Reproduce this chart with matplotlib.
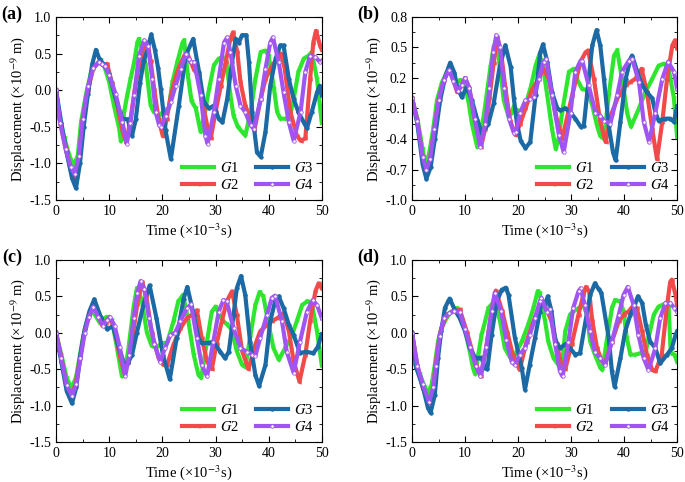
import matplotlib
matplotlib.use('Agg')
import matplotlib.pyplot as plt
import numpy as np
from matplotlib.ticker import MultipleLocator

plt.rcParams['font.family'] = 'serif'
plt.rcParams['font.serif'] = ['Liberation Serif', 'DejaVu Serif']
plt.rcParams['mathtext.fontset'] = 'stix'
plt.rcParams['font.size'] = 10

# (time in 1e-3 s, displacement in 1e-9 m)
a_g1 = [(0, 0), (0.6, -0.39), (1.6, -0.66), (2.5, -0.89), (3.3, -1.03), (4.1, -0.89), (4.7, -0.44), (5.6, -0.07),
        (6.6, 0.25), (7.5, 0.34), (8.4, 0.41), (9.2, 0.3), (10, 0.11), (10.9, -0.21), (11.9, -0.53), (12.2, -0.7),
        (12.8, -0.3), (13.4, -0.07), (14, 0.15), (14.7, 0.38), (15.3, 0.65), (15.6, 0.7), (16.2, 0.55), (16.9, 0.34),
        (17.8, -0.21), (18.4, -0.3), (19.4, -0.35), (20.5, -0.27), (21.2, -0.25), (21.9, 0.11), (22.8, 0.38),
        (23.8, 0.65), (24.1, 0.68), (24.8, 0.2), (25.5, -0.15), (26.3, -0.25), (27.2, -0.57), (28, -0.3),
        (28.8, 0.02), (29.7, 0.34), (30.6, 0.43), (31.3, 0.45), (32, 0.4), (32.8, -0.07), (33.4, -0.35),
        (34.2, -0.5), (35, -0.57), (35.6, -0.62), (36.6, -0.3), (37.5, 0.15), (38.5, 0.52), (39.4, 0.54),
        (40, 0.47), (41, 0.02), (41.6, -0.3), (42.2, -0.39), (43.1, -0.39), (44, -0.36), (44.7, -0.12),
        (45.6, 0.25), (46.6, 0.43), (47.5, 0.47), (48.1, 0.52), (49.1, 0.15), (50, -0.45)]
a_g2 = [(0, 0), (0.8, -0.45), (1.8, -0.8), (2.8, -1.1), (3.5, -1.22), (4.2, -1.0), (5, -0.4), (6, 0.0), (7, 0.3),
        (8, 0.38), (9, 0.33), (9.6, 0.36), (10.5, 0.1), (11.5, -0.2), (12.5, -0.55), (13.2, -0.72), (14, -0.4),
        (14.8, 0.0), (15.5, 0.3), (16.5, 0.6), (17.2, 0.65), (17.8, 0.4), (18.5, 0.0), (19.3, -0.4), (20.1, -0.63),
        (20.8, -0.4), (21.6, -0.07), (22.8, 0.25), (24.1, 0.47), (24.7, 0.5), (26, 0.27), (26.9, 0.2),
        (27.8, -0.25), (28.8, -0.62), (29.1, -0.66), (30, -0.3), (31, 0.06), (31.9, 0.38), (32.8, 0.7),
        (33.3, 0.79), (34.1, 0.52), (34.7, 0.11), (35.6, -0.21), (36.6, -0.39), (37.3, -0.55), (38.5, -0.12),
        (39.4, 0.15), (40.3, 0.29), (41.3, 0.4), (42.3, 0.5), (43, 0.3), (44.1, -0.3), (45.3, -0.62), (46, -0.69),
        (46.9, -0.66), (47.8, 0.15), (48.4, 0.65), (48.9, 0.81), (49.7, 0.6), (50, 0.55)]
a_g3 = [(0, 0), (1, -0.45), (2, -0.85), (3, -1.2), (3.75, -1.34), (4.5, -1.0), (5.2, -0.5), (6, -0.05), (6.8, 0.35),
        (7.5, 0.55), (8.2, 0.42), (9, 0.35), (10, 0.22), (11, -0.05), (12, -0.3), (12.5, -0.39), (13.5, -0.4),
        (14.3, -0.62), (15, -0.4), (15.8, 0.1), (16.5, 0.4), (17.2, 0.55), (17.9, 0.76), (18.6, 0.55), (19.2, 0.3),
        (19.7, 0.02), (20.6, -0.55), (21.6, -0.94), (23.1, -0.21), (24.4, 0.47), (25.8, 0.7), (26.9, 0.25),
        (27.8, -0.16), (28.8, -0.25), (29.7, -0.21), (30.6, -0.39), (31.3, -0.44), (32.2, -0.12), (33.1, 0.38),
        (33.8, 0.7), (34.4, 0.65), (35, 0.75), (35.8, 0.75), (36.3, 0.38), (36.9, -0.3), (37.8, -0.85),
        (38.5, -0.91), (39.4, -0.57), (40.3, 0.06), (41.3, 0.43), (42.2, 0.61), (42.8, 0.61), (43.8, 0.15),
        (44.7, -0.12), (45.6, -0.3), (46.6, -0.44), (47.2, -0.52), (48.1, -0.3), (49.1, -0.03), (49.6, 0.06),
        (50, -0.07)]
a_g4 = [(0, 0), (0.8, -0.45), (1.8, -0.8), (2.8, -1.05), (3.5, -1.15), (4.3, -0.9), (5, -0.4), (6, 0.05), (7, 0.3),
        (8, 0.38), (8.6, 0.36), (9.3, 0.33), (10, 0.2), (11.2, -0.05), (12.5, -0.44), (13.3, -0.73), (14, -0.45),
        (14.7, -0.07), (15.6, 0.47), (16.6, 0.68), (17.3, 0.6), (18.1, 0.15), (18.75, -0.3), (19.4, -0.48),
        (19.8, -0.5), (20.6, -0.35), (21.6, -0.16), (22.5, 0.06), (23.5, 0.29), (24.4, 0.5), (25, 0.43),
        (25.3, 0.38), (26, 0.38), (27.2, -0.07), (28.1, -0.62), (28.5, -0.73), (29.7, -0.3), (30.6, 0.15),
        (31.6, 0.65), (32.2, 0.72), (32.8, 0.52), (33.8, 0.06), (34.7, -0.21), (35.6, -0.3), (36.6, -0.48),
        (37.2, -0.53), (38.5, -0.12), (39.4, 0.29), (40.3, 0.65), (40.8, 0.72), (41.9, 0.38), (42.8, -0.03),
        (43.8, -0.44), (44.7, -0.69), (46, -0.3), (46.9, 0.25), (47.8, 0.47), (48.8, 0.45), (49.7, 0.38), (50, 0.4)]

b_g1 = [(0, 0), (1, -0.2), (2, -0.5), (2.5, -0.64), (3.2, -0.55), (4, -0.3), (4.7, -0.02), (5.6, 0.15), (6.6, 0.26),
        (7, 0.28), (7.6, 0.22), (8.2, 0.13), (9.1, 0.18), (10.1, 0.1), (10.7, -0.05), (11.3, -0.25), (12.3, -0.48),
        (13.5, -0.18), (14.2, 0.08), (14.8, 0.31), (15.4, 0.51), (16, 0.51), (16.6, 0.3), (17.3, -0.02),
        (18.2, -0.18), (18.8, -0.14), (19.2, -0.08), (19.8, -0.12), (20.6, -0.14), (21.5, -0.05), (22.5, 0.13),
        (23.3, 0.32), (24, 0.43), (24.6, 0.35), (25.5, 0.03), (26.4, -0.3), (27.1, -0.5), (27.7, -0.38),
        (28.3, -0.14), (29.6, 0.26), (30.5, 0.29), (31.1, 0.19), (32.1, 0.09), (33, 0.08), (34, -0.07),
        (34.9, -0.27), (35.5, -0.37), (36.2, -0.4), (37.1, 0.03), (38.1, 0.42), (38.7, 0.47), (39.6, 0.19),
        (40.6, -0.15), (41.3, -0.28), (42.8, -0.1), (44, 0.06), (45.3, 0.19), (46.5, 0.32), (47.5, 0.34),
        (48.4, 0.29), (49.4, 0.0), (50, -0.38)]
b_g2 = [(0, 0), (1, -0.22), (2, -0.58), (2.7, -0.72), (3.4, -0.6), (4.2, -0.3), (5, -0.02), (6, 0.18), (7, 0.28),
        (7.8, 0.18), (8.5, 0.06), (9.3, 0.12), (10, 0.2), (10.8, 0.1), (11.8, -0.2), (13, -0.48), (13.8, -0.3),
        (14.6, 0.0), (15.4, 0.35), (16.1, 0.6), (16.8, 0.45), (17.6, 0.1), (18.5, -0.22), (19.5, -0.36),
        (20.4, -0.25), (21.4, -0.1), (22.6, 0.08), (23.9, 0.19), (24.8, 0.29), (25.8, 0.19), (27, -0.14),
        (28.3, -0.4), (29.2, -0.2), (30.2, 0.03), (31.8, 0.36), (32.7, 0.45), (33.2, 0.47), (34.3, 0.19),
        (35.5, -0.23), (36.5, -0.43), (37.7, -0.14), (39, 0.03), (40.3, 0.13), (41.2, 0.16), (42.1, 0.19),
        (43.3, 0.29), (44.3, 0.06), (45.3, -0.3), (46.2, -0.6), (47.2, -0.23), (48.1, 0.19), (49.1, 0.52),
        (49.6, 0.57), (50, 0.49)]
b_g3 = [(0, 0), (1, -0.25), (2, -0.65), (2.7, -0.79), (3.5, -0.68), (4.3, -0.4), (5.3, -0.02), (6.3, 0.22),
        (7.2, 0.35), (8, 0.25), (8.5, 0.11), (9.4, 0.01), (10.3, 0.11), (11.3, -0.02), (12.3, -0.21), (13.2, -0.35),
        (14.4, -0.25), (15.4, -0.05), (16.5, 0.3), (17.6, 0.52), (18.6, 0.31), (19.2, 0.0), (19.8, -0.25),
        (20.5, -0.42), (21.4, -0.49), (22.3, -0.43), (23.3, 0.03), (24.2, 0.45), (24.7, 0.53), (25.5, 0.36),
        (26.4, 0.06), (27.4, -0.1), (28, -0.12), (28.9, -0.1), (29.9, -0.14), (30.8, -0.2), (31.8, -0.28),
        (32.4, -0.27), (33, 0.03), (34, 0.52), (34.8, 0.67), (35.5, 0.52), (36.2, 0.19), (37.1, -0.27),
        (37.9, -0.53), (38.4, -0.61), (39.3, -0.23), (40.3, 0.19), (41.2, 0.39), (41.5, 0.42), (42.5, 0.26),
        (43.4, 0.13), (44.3, 0.06), (45.3, 0.0), (45.9, -0.14), (46.5, -0.22), (47.8, -0.2), (48.7, -0.2),
        (49.4, -0.23), (50, -0.08)]
b_g4 = [(0, 0), (1, -0.22), (2, -0.58), (2.7, -0.7), (3.4, -0.6), (4.2, -0.3), (5, -0.02), (6, 0.18), (7, 0.28),
        (7.8, 0.17), (8.6, 0.07), (9.4, 0.13), (10, 0.2), (10.8, 0.1), (11.8, -0.2), (12.9, -0.48), (13.8, -0.25),
        (14.6, 0.1), (15.3, 0.45), (15.9, 0.62), (16.6, 0.5), (17.4, 0.1), (18.3, -0.2), (19.2, -0.34),
        (19.6, -0.33), (20.4, -0.14), (21.4, -0.02), (22.3, -0.01), (23, 0.01), (23.9, 0.19), (24.8, 0.36),
        (25.3, 0.39), (26.4, 0.03), (27.7, -0.36), (28.6, -0.53), (29.9, -0.14), (30.8, 0.26), (31.8, 0.37),
        (32.1, 0.37), (33.3, 0.13), (34.6, -0.14), (35.5, -0.17), (36.2, -0.22), (37.4, -0.25), (38.7, 0.03),
        (39.6, 0.26), (40.9, 0.37), (41.5, 0.39), (42.8, 0.16), (43.7, -0.23), (44.7, -0.43), (45.9, -0.14),
        (47.2, 0.19), (48.3, 0.36), (49.4, 0.26), (50, 0.09)]

c_g1 = [(0, 0), (1, -0.3), (2, -0.62), (2.95, -0.76), (3.8, -0.6), (4.5, -0.3), (5.1, -0.05), (5.8, 0.15),
        (6.7, 0.29), (7.3, 0.25), (8.3, 0.13), (9.5, 0.22), (10.5, 0.18), (11.4, -0.18), (12.4, -0.6), (13, -0.5),
        (13.6, -0.23), (14.6, 0.36), (15.2, 0.61), (16.1, 0.46), (17.1, 0.0), (18, -0.18), (18.9, -0.2),
        (19.9, -0.14), (20.9, -0.14), (22.1, 0.16), (23, 0.43), (23.9, 0.52), (24.9, 0.16), (25.9, -0.3),
        (26.8, -0.58), (27.3, -0.62), (28.4, -0.12), (29.3, 0.29), (30, 0.36), (31.2, 0.18), (32.1, 0.12),
        (33, 0.05), (34, -0.25), (35, -0.44), (35.6, -0.47), (36.5, -0.07), (37.5, 0.38), (38.3, 0.56), (39, 0.5),
        (40, 0.11), (40.9, -0.21), (41.9, -0.37), (43.1, -0.21), (44.4, -0.03), (45.3, 0.16), (46.3, 0.38),
        (47.2, 0.43), (48.1, 0.41), (49.1, 0.02), (50, -0.45)]
c_g2 = [(0, 0), (1, -0.35), (2, -0.72), (2.9, -0.85), (3.7, -0.7), (4.5, -0.35), (5.3, 0.0), (6.2, 0.25), (7, 0.38),
        (7.8, 0.25), (8.7, 0.1), (9.4, 0.14), (10, 0.2), (10.8, 0.1), (11.8, -0.25), (12.8, -0.55), (13.6, -0.4),
        (14.5, 0.0), (15.3, 0.4), (16.2, 0.7), (17, 0.5), (18, 0.0), (19.3, -0.35), (20.2, -0.44), (20.9, -0.44),
        (22.1, -0.16), (23.4, 0.06), (24.6, 0.2), (25.6, 0.25), (26.5, 0.31), (27.4, -0.07), (28.4, -0.39),
        (29.3, -0.5), (30.2, -0.15), (31.2, 0.16), (32.1, 0.43), (33.1, 0.57), (34, 0.25), (35, -0.25),
        (36.2, -0.5), (37.5, -0.16), (38.4, 0.02), (39.7, 0.11), (40.6, 0.16), (41.6, 0.2), (42.5, 0.25),
        (42.8, 0.27), (43.8, 0.02), (44.7, -0.39), (45.8, -0.67), (46.9, -0.3), (47.8, 0.16), (48.8, 0.57),
        (49.4, 0.68), (50, 0.61)]
c_g3 = [(0, 0), (1, -0.4), (2, -0.8), (3, -0.97), (3.8, -0.75), (4.6, -0.3), (5.4, 0.05), (6.3, 0.3), (7.2, 0.46),
        (8.4, 0.22), (9.6, 0.05), (10.7, 0.09), (11.8, -0.2), (12.8, -0.42), (13.5, -0.42), (14.3, -0.3),
        (15.2, 0.0), (16.5, 0.4), (17.6, 0.65), (18.9, 0.2), (20.1, -0.3), (21.4, -0.64), (22.7, -0.07), (24, 0.47),
        (24.7, 0.63), (25.9, 0.25), (26.8, -0.07), (27.4, -0.14), (28.7, -0.14), (29.6, -0.12), (30.9, -0.26),
        (31.8, -0.35), (32.5, -0.26), (33.4, 0.25), (34, 0.61), (34.8, 0.78), (35.6, 0.52), (36.5, -0.12),
        (37.5, -0.58), (38.2, -0.73), (39.4, -0.44), (40.3, 0.16), (41.2, 0.43), (41.9, 0.5), (42.8, 0.34),
        (43.8, 0.11), (44.7, -0.03), (45.9, -0.28), (47, -0.26), (48.4, -0.28), (49.2, -0.2), (50, -0.02)]
c_g4 = [(0, 0), (1, -0.35), (2, -0.72), (3, -0.87), (3.8, -0.7), (4.6, -0.35), (5.4, 0.0), (6.2, 0.22), (7, 0.36),
        (7.9, 0.22), (8.8, 0.1), (9.5, 0.17), (10.1, 0.22), (11, 0.1), (12, -0.2), (13, -0.6), (13.8, -0.3),
        (14.6, 0.2), (15.3, 0.55), (15.9, 0.71), (16.6, 0.6), (17.5, 0.2), (18.5, -0.15), (19.6, -0.4),
        (20.5, -0.21), (21.5, -0.03), (22.4, 0.0), (23.4, 0.16), (24.6, 0.34), (25.4, 0.39), (26.5, -0.07),
        (27.4, -0.44), (28.4, -0.6), (29.6, -0.12), (30.6, 0.29), (31.5, 0.45), (32.1, 0.43), (33.4, 0.06),
        (34.7, -0.21), (35.9, -0.26), (36.9, -0.3), (37.5, -0.32), (38.4, -0.07), (39.7, 0.25), (40.6, 0.48),
        (41.2, 0.51), (42.5, 0.16), (43.4, -0.26), (44.7, -0.55), (45.9, -0.12), (47.2, 0.29), (48.3, 0.45),
        (49.1, 0.38), (50, 0.2)]

d_g1 = [(0, 0), (0.5, -0.43), (1.5, -0.57), (2.4, -0.75), (3, -0.82), (3.7, -0.71), (4.3, -0.44), (4.9, -0.12),
        (5.5, 0.06), (6.5, 0.2), (7.4, 0.29), (8.4, 0.34), (9, 0.27), (10, 0.04), (10.9, -0.26), (11.5, -0.48),
        (11.9, -0.57), (12.5, -0.3), (13.1, -0.03), (13.8, 0.16), (14.4, 0.34), (15, 0.39), (15.7, 0.42),
        (16.6, 0.16), (17.5, -0.21), (18.5, -0.34), (19.4, -0.3), (20.7, -0.12), (21.9, 0.11), (22.9, 0.34),
        (23.7, 0.57), (24.1, 0.54), (25.1, 0.16), (25.7, -0.12), (26.7, -0.35), (27.6, -0.44), (28.2, -0.51),
        (28.9, 0.02), (29.8, 0.25), (30.4, 0.29), (31.4, 0.34), (32.3, 0.38), (33, 0.25), (33.6, -0.12),
        (34.5, -0.3), (35.5, -0.48), (35.9, -0.51), (36.7, -0.12), (37.7, 0.34), (38.3, 0.45), (39.3, 0.43),
        (39.9, 0.29), (40.5, -0.07), (41.2, -0.3), (42.1, -0.3), (43.1, -0.28), (44, -0.3), (44.6, -0.07),
        (45.6, 0.25), (46.5, 0.36), (47.5, 0.39), (48.4, 0.34), (48.8, -0.28), (49.5, -0.3), (50, -0.4)]
d_g2 = [(0, 0), (1, -0.45), (2, -0.75), (3.3, -0.97), (4, -0.75), (4.5, -0.4), (5.3, 0.0), (6.5, 0.25), (8, 0.3),
        (9, 0.32), (10.4, 0.0), (11.7, -0.35), (13, -0.6), (14, -0.2), (15, 0.3), (15.8, 0.58), (17, 0.3), (18, 0.0),
        (19, -0.3), (20.3, -0.51), (21.6, -0.12), (22.9, 0.16), (24.1, 0.38), (24.4, 0.43), (25.4, 0.32),
        (26.3, 0.16), (27.3, -0.16), (28.2, -0.45), (28.9, -0.5), (30.1, -0.16), (31.4, 0.25), (32.3, 0.52),
        (32.8, 0.63), (33.4, 0.57), (34, 0.16), (34.9, -0.21), (35.8, -0.39), (36.4, -0.42), (37.7, -0.12),
        (39, 0.16), (39.9, 0.25), (40.8, 0.29), (41.8, 0.38), (42.4, 0.34), (43.4, 0.02), (44.3, -0.3),
        (45.3, -0.51), (45.9, -0.53), (47.1, -0.3), (48.1, 0.38), (48.7, 0.7), (49, 0.73), (49.7, 0.52), (50, 0.38)]
d_g3 = [(0, 0), (0.8, -0.48), (2.1, -0.76), (3, -1.03), (3.5, -1.1), (4.3, -0.85), (4.9, -0.35), (5.5, 0.02),
        (6.2, 0.34), (6.8, 0.43), (7.1, 0.47), (8.1, 0.31), (9, 0.2), (10, 0.02), (10.9, -0.21), (11.9, -0.34),
        (12.5, -0.35), (13.1, -0.34), (13.7, -0.48), (14.2, -0.5), (15, -0.03), (16, 0.43), (16.9, 0.59),
        (17.7, 0.62), (18.2, 0.52), (19.4, -0.07), (20.7, -0.48), (21.3, -0.78), (22.2, -0.44), (23.2, -0.07),
        (24.1, 0.29), (24.5, 0.45), (25.1, 0.38), (25.6, 0.5), (26.3, 0.3), (27, -0.1), (27.9, -0.21),
        (28.9, -0.16), (29.8, -0.21), (30.8, -0.3), (31.7, -0.28), (32.6, 0.11), (33.6, 0.52), (34.5, 0.68),
        (35.2, 0.6), (35.7, 0.55), (37.1, -0.07), (37.7, -0.53), (38.2, -0.74), (39.3, -0.35), (40.2, 0.02),
        (41.2, 0.25), (41.8, 0.34), (42.6, 0.5), (43.4, 0.41), (44.1, 0.11), (44.9, -0.12), (45.9, -0.21),
        (46.8, -0.42), (48.1, -0.3), (49, -0.21), (49.7, -0.03), (50, 0.02)]
d_g4 = [(0, 0), (1, -0.45), (2, -0.7), (3.2, -0.95), (4, -0.75), (4.5, -0.45), (5.2, -0.05), (6, 0.2), (7, 0.27),
        (8, 0.3), (9, 0.28), (10, 0.05), (11, -0.2), (12, -0.45), (12.9, -0.6), (14, -0.2), (15, 0.3), (15.6, 0.55),
        (16.8, 0.3), (17.8, -0.1), (18.8, -0.4), (19.4, -0.44), (20.3, -0.3), (21.3, -0.21), (22.2, -0.03),
        (23.2, 0.2), (24.1, 0.43), (24.4, 0.48), (25.4, 0.29), (26, 0.32), (27, -0.16), (27.9, -0.53),
        (28.4, -0.6), (29.5, -0.12), (30.4, 0.34), (31.4, 0.57), (31.8, 0.61), (32.6, 0.38), (33.6, 0.02),
        (34.5, -0.26), (35.5, -0.35), (36.4, -0.44), (37.7, -0.12), (39, 0.25), (39.9, 0.52), (40.7, 0.63),
        (41.8, 0.38), (42.7, -0.03), (43.7, -0.35), (44.6, -0.51), (45.9, -0.21), (46.8, 0.2), (47.8, 0.41),
        (48.7, 0.41), (49.5, 0.34), (50, 0.29)]

labels = ['$G$1', '$G$2', '$G$3', '$G$4']
colors = ['#2ee62e', '#f24a4a', '#1b6aa5', '#a055f2']
markers = ['v', '<', 'o', 'o']

yticks_ac = [-1.5, -1.0, -0.5, 0.0, 0.5, 1.0]
yticks_b = [-1.0, -0.7, -0.4, -0.1, 0.2, 0.5, 0.8]

panels = [
    ('(a)', [a_g1, a_g2, a_g3, a_g4], yticks_ac, [0.0818, 0.585, 0.388, 0.380]),
    ('(b)', [b_g1, b_g2, b_g3, b_g4], yticks_b, [0.6015, 0.585, 0.387, 0.380]),
    ('(c)', [c_g1, c_g2, c_g3, c_g4], yticks_ac, [0.0818, 0.083, 0.388, 0.3776]),
    ('(d)', [d_g1, d_g2, d_g3, d_g4], yticks_ac, [0.6015, 0.083, 0.387, 0.3776]),
]

fig = plt.figure(figsize=(6.85, 4.82), dpi=100)

for tag, series, yt, rect in panels:
    ax = fig.add_axes(rect)
    for data, lab, col, mk in zip(series, labels, colors, markers):
        t = [p[0] for p in data]
        y = [p[1] for p in data]
        face = 'white' if lab == '$G$4' else col
        ax.plot(t, y, color=col, lw=3, marker=mk, ms=2.5, mfc=face, mec=col, mew=0.6, label=lab)
    ax.set_xlim(0, 50)
    ax.set_ylim(yt[0], yt[-1])
    ax.xaxis.set_major_locator(MultipleLocator(10))
    ax.xaxis.set_minor_locator(MultipleLocator(5))
    ax.set_yticks(yt)
    step = yt[1] - yt[0]
    ax.set_yticks(np.arange(yt[0], yt[-1] + 1e-6, step / 2), minor=True)
    ax.yaxis.set_major_formatter(plt.FormatStrFormatter('%.1f'))
    ax.tick_params(which='both', direction='in', top=True, right=True, labelsize=10)
    ax.tick_params(which='major', length=4)
    ax.tick_params(which='minor', length=2)
    ax.set_xlabel('Time (×10$^{-3}$s)', fontsize=10.5, labelpad=2)
    ax.set_ylabel('Displacement (×10$^{-9}$ m)', fontsize=10.5, labelpad=2)
    ax.legend(loc='lower right', ncol=2, frameon=False, fontsize=10.5, handlelength=2.2,
              columnspacing=1.2, labelspacing=0.2, handletextpad=0.4, borderaxespad=0.15)
    pos = ax.get_position()
    fig.text(pos.x0 - 44 / 685, pos.y1 + 3 / 482, tag, fontsize=13, fontweight='bold',
             ha='center', va='center')

fig.savefig('out.png', dpi=100)
